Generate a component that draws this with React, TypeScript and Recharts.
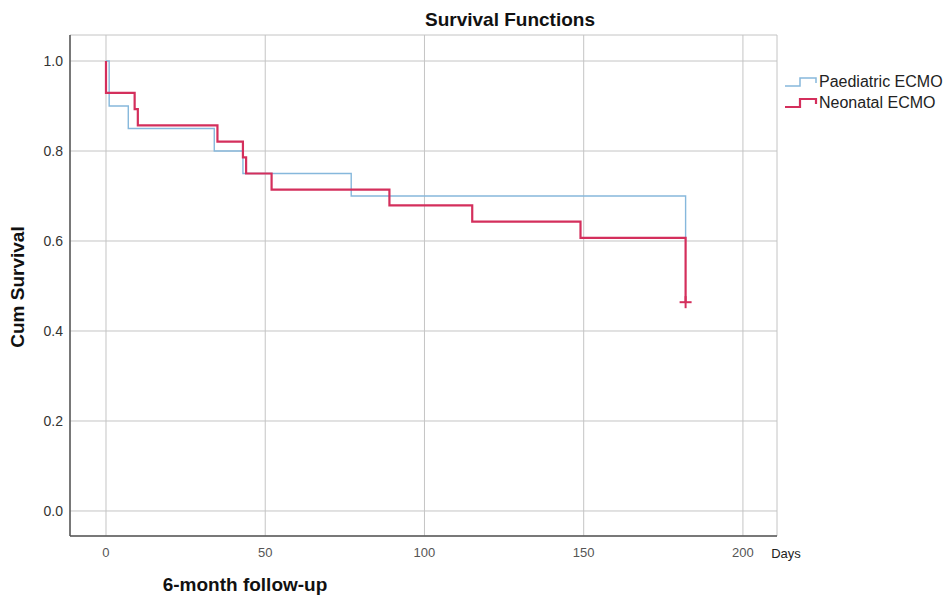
import React from "react";
import { ComposedChart, Line, Scatter, XAxis, YAxis, CartesianGrid } from "recharts";

const paediatricDays = [0, 1, 1, 7, 34, 43, 77, 182];
const paediatricSurvival = [1.0, 0.95, 0.9, 0.85, 0.8, 0.75, 0.7, 0.6];

const neonatalDays = [0, 0, 9, 10, 35, 43, 44, 52, 89, 115, 149, 182];
const neonatalSurvival = [1.0, 0.929, 0.893, 0.857, 0.821, 0.786, 0.75, 0.714, 0.679, 0.643, 0.607, 0.464];

const censorDays = [182];
const censorSurvival = [0.464];

const xTicks = [0, 50, 100, 150, 200];
const yTicks = [0, 0.2, 0.4, 0.6, 0.8, 1.0];

const BLUE = "#86b8dc";
const RED = "#d42f5c";
const FONT = "'Liberation Sans', Arial, sans-serif";

const paediatricData = paediatricDays.map((d, i) => ({ day: d, s: paediatricSurvival[i] }));
const neonatalData = neonatalDays.map((d, i) => ({ day: d, s: neonatalSurvival[i] }));
const censorData = censorDays.map((d, i) => ({ day: d, s: censorSurvival[i] }));

const PlusShape = (props: any) => {
  const { cx, cy } = props;
  if (cx == null || cy == null) return null;
  return (
    <g>
      <line x1={cx - 6} y1={cy} x2={cx + 6} y2={cy} stroke={RED} strokeWidth={2} />
      <line x1={cx} y1={cy - 6} x2={cx} y2={cy + 6} stroke={RED} strokeWidth={2} />
    </g>
  );
};

const StepIcon = ({ color, w }: { color: string; w: number }) => (
  <svg width={34} height={14} style={{ display: "block" }}>
    <polyline points="1,11 16,11 16,3 32,3 32,8" fill="none" stroke={color} strokeWidth={w} />
  </svg>
);

const LegendBox = () => (
  <div style={{ position: "absolute", left: 784, top: 71, fontFamily: FONT, fontSize: 16, color: "#222" }}>
    <div style={{ display: "flex", alignItems: "center", height: 21 }}>
      <StepIcon color={BLUE} w={1.5} />
      <span style={{ marginLeft: 1 }}>Paediatric ECMO</span>
    </div>
    <div style={{ display: "flex", alignItems: "center", height: 21 }}>
      <StepIcon color={RED} w={2.2} />
      <span style={{ marginLeft: 1 }}>Neonatal ECMO</span>
    </div>
  </div>
);

export default function App() {
  return (
    <div style={{ position: "absolute", left: 0, top: 0, width: 948, height: 600, background: "#fff", fontFamily: FONT }}>
      <ComposedChart
        width={948}
        height={600}
        margin={{ top: 35, right: 171, bottom: 0, left: 0 }}
      >
        <CartesianGrid stroke="#c4c4c4" strokeWidth={1} />
        <XAxis
          type="number"
          dataKey="day"
          domain={[-11.3, 210.7]}
          ticks={xTicks}
          allowDataOverflow
          height={64}
          tickLine={false}
          tickSize={0}
          tickMargin={12}
          axisLine={{ stroke: "#555", strokeWidth: 1.5 }}
          tick={{ fill: "#555", fontSize: 13, fontFamily: FONT }}
        />
        <YAxis
          type="number"
          dataKey="s"
          domain={[-0.0556, 1.0578]}
          ticks={yTicks}
          allowDataOverflow
          width={70}
          tickLine={false}
          tickSize={0}
          tickMargin={7}
          tickFormatter={(v: number) => v.toFixed(1)}
          axisLine={{ stroke: "#555", strokeWidth: 1.5 }}
          tick={{ fill: "#333", fontSize: 14, fontFamily: FONT }}
        />
        <Line
          data={paediatricData}
          dataKey="s"
          type="stepAfter"
          stroke={BLUE}
          strokeWidth={1.4}
          dot={false}
          isAnimationActive={false}
          name="Paediatric ECMO"
        />
        <Line
          data={neonatalData}
          dataKey="s"
          type="stepAfter"
          stroke={RED}
          strokeWidth={2.2}
          dot={false}
          isAnimationActive={false}
          name="Neonatal ECMO"
        />
        <Scatter
          data={censorData}
          dataKey="s"
          shape={PlusShape}
          isAnimationActive={false}
          legendType="none"
        />
      </ComposedChart>
      <LegendBox />
      <div style={{ position: "absolute", left: 425, top: 20, transform: "translateY(-50%)", fontWeight: "bold", fontSize: 19, color: "#111", whiteSpace: "nowrap" }}>
        Survival Functions
      </div>
      <div style={{ position: "absolute", left: 18, top: 287, transform: "translate(-50%, -50%) rotate(-90deg)", fontWeight: "bold", fontSize: 19, color: "#111", whiteSpace: "nowrap" }}>
        Cum Survival
      </div>
      <div style={{ position: "absolute", left: 245, top: 585, transform: "translate(-50%, -50%)", fontWeight: "bold", fontSize: 19, color: "#111", whiteSpace: "nowrap" }}>
        6-month follow-up
      </div>
      <div style={{ position: "absolute", left: 786, top: 553, transform: "translate(-50%, -50%)", fontSize: 13, color: "#222", whiteSpace: "nowrap" }}>
        Days
      </div>
    </div>
  );
}
